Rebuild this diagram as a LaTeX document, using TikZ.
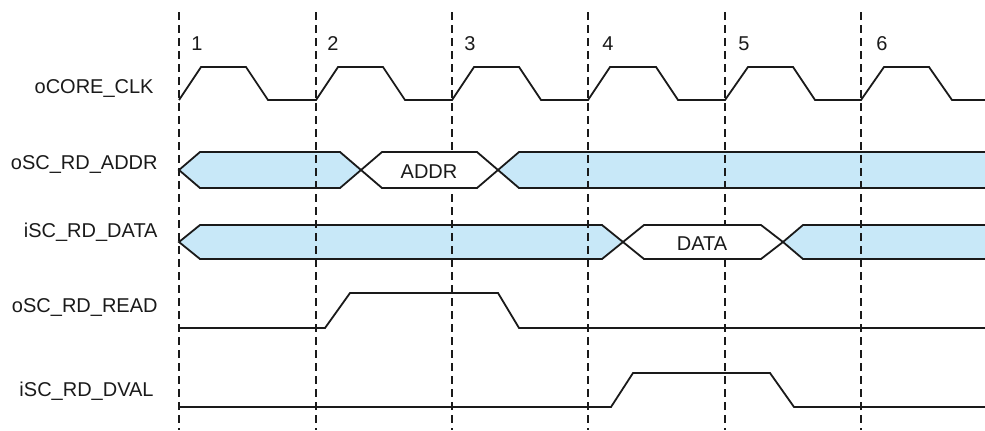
\documentclass[tikz,border=0pt]{standalone}
\usepackage{fontspec}
\setmainfont{Liberation Sans}
\usepackage{xcolor}
\usepackage{tikz}
\definecolor{busFill}{HTML}{C8E8F8}
\definecolor{sigDraw}{HTML}{1A1A1A}
\definecolor{tickDraw}{HTML}{1A1A1A}
\definecolor{textCol}{HTML}{1A1A1A}

\begin{document}
\begin{tikzpicture}[
  x=0.5pt, y=-0.5pt,
  font=\fontsize{10}{12}\selectfont,
  sig/.style={line width=0.9pt, draw=sigDraw, line join=miter},
  busblue/.style={fill=busFill},
  buswhite/.style={sig, fill=white},
  tickline/.style={line width=0.9pt, draw=tickDraw, dash pattern=on 4pt off 2.5pt},
  signame/.style={anchor=east, inner sep=0pt, text height=7.2pt, text depth=0pt, text=textCol},
  cycnum/.style={inner sep=0pt, text height=7.2pt, text depth=0pt, text=textCol},
  cellname/.style={inner sep=0pt, text height=7.2pt, text depth=0pt, text=textCol},
]
\useasboundingbox (0,0) rectangle (985,430);

% ---- Signal names ----
\node[signame] (lclk)  at (154, 86) {oCORE\_CLK};
\node[signame] (laddr) at (158,162) {oSC\_RD\_ADDR};
\node[signame] (ldata) at (158,230) {iSC\_RD\_DATA};
\node[signame] (lread) at (158,305) {oSC\_RD\_READ};
\node[signame] (ldval) at (154,389) {iSC\_RD\_DVAL};

% ---- Bus fills (under the cycle marks) ----
\fill[busblue] (179,170) -- (200,152) -- (340,152) -- (361,170) -- (340,188) -- (200,188) -- cycle;
\fill[busblue] (498,170) -- (519,152) -- (986,152) -- (986,188) -- (519,188) -- cycle;
\fill[busblue] (179,242) -- (200,225) -- (602,225) -- (623,242) -- (602,259) -- (200,259) -- cycle;
\fill[busblue] (783,242) -- (803,225) -- (986,225) -- (986,259) -- (803,259) -- cycle;

% ---- Cycle marks ----
\coordinate (t1) at (179,12); \coordinate (b1) at (179,430);
\coordinate (t2) at (316,12); \coordinate (b2) at (316,430);
\coordinate (t3) at (452,12); \coordinate (b3) at (452,430);
\coordinate (t4) at (588,12); \coordinate (b4) at (588,430);
\coordinate (t5) at (725,12); \coordinate (b5) at (725,430);
\coordinate (t6) at (861,12); \coordinate (b6) at (861,430);
\draw[tickline] (t1) -- (b1);
\draw[tickline] (t2) -- (b2);
\draw[tickline] (t3) -- (b3);
\draw[tickline] (t4) -- (b4);
\draw[tickline] (t5) -- (b5);
\draw[tickline] (t6) -- (b6);

\node[cycnum] (n1) at (197,43) {1};
\node[cycnum] (n2) at (333,43) {2};
\node[cycnum] (n3) at (470,43) {3};
\node[cycnum] (n4) at (608,43) {4};
\node[cycnum] (n5) at (744,43) {5};
\node[cycnum] (n6) at (882,43) {6};

% ---- oCORE_CLK ----
\draw[sig] (179,100) -- (201,67) -- (246,67) -- (268,100) -- (316,100)
           -- (338,67) -- (383,67) -- (405,100) -- (452,100)
           -- (474,67) -- (519,67) -- (541,100) -- (588,100)
           -- (610,67) -- (656,67) -- (678,100) -- (725,100)
           -- (748,67) -- (793,67) -- (815,100) -- (861,100)
           -- (884,67) -- (929,67) -- (952,100) -- (986,100);

% ---- oSC_RD_ADDR ----
\draw[sig] (179,170) -- (200,152) -- (340,152) -- (361,170) -- (340,188) -- (200,188) -- cycle;
\draw[buswhite] (361,170) -- (382,152) -- (477,152) -- (498,170) -- (477,188) -- (382,188) -- cycle;
\draw[sig] (986,152) -- (519,152) -- (498,170) -- (519,188) -- (986,188);
\node[cellname] (addr) at (429,171) {ADDR};

% ---- iSC_RD_DATA ----
\draw[sig] (179,242) -- (200,225) -- (602,225) -- (623,242) -- (602,259) -- (200,259) -- cycle;
\draw[buswhite] (623,242) -- (644,225) -- (761,225) -- (783,242) -- (761,259) -- (644,259) -- cycle;
\draw[sig] (986,225) -- (803,225) -- (783,242) -- (803,259) -- (986,259);
\node[cellname] (data) at (702,243) {DATA};

% ---- oSC_RD_READ ----
\draw[sig] (179,328) -- (325,328) -- (350,293) -- (498,293) -- (519,328) -- (986,328);

% ---- iSC_RD_DVAL ----
\draw[sig] (179,407) -- (611,407) -- (633,373) -- (770,373) -- (794,407) -- (986,407);

\end{tikzpicture}
\end{document}
